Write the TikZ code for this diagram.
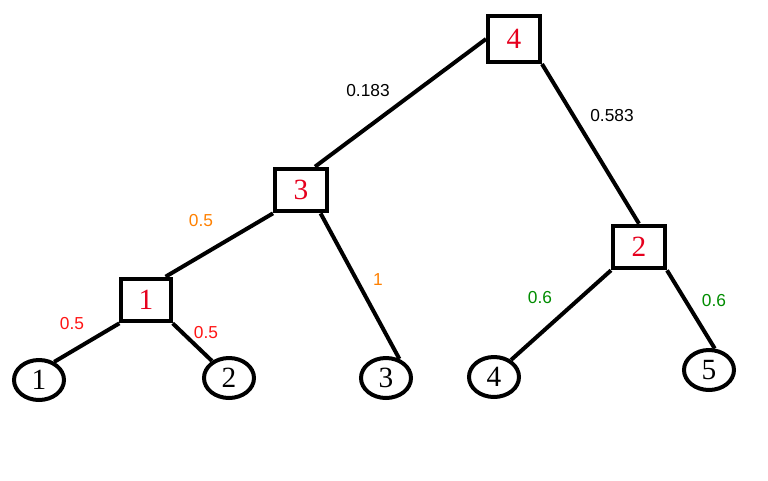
\documentclass[tikz,border=0pt]{standalone}
\usepackage{fontspec}
\usepackage{xcolor}
\usepackage{tikz}
\usetikzlibrary{shapes.geometric}
\newfontfamily\digitfont{Liberation Serif}
\newfontfamily\labelfont{Liberation Sans}
\definecolor{boxred}{RGB}{230,0,30}
\definecolor{wred}{RGB}{255,20,20}
\definecolor{worange}{RGB}{255,128,0}
\definecolor{wgreen}{RGB}{0,140,0}

\begin{document}
\begin{tikzpicture}[
    x=0.75pt, y=-0.75pt,
    every node/.style={font=\labelfont\fontsize{13}{15}\selectfont},
    merge/.style={
        rectangle, draw=black, line width=3pt, fill=white,
        minimum width=39pt, minimum height=32pt, inner sep=0pt,
        text=boxred, font=\digitfont\fontsize{22}{24}\selectfont
    },
    leaf/.style={
        ellipse, draw=black, line width=3pt, fill=white,
        minimum width=37.5pt, minimum height=30pt, inner sep=0pt,
        font=\digitfont\fontsize{22}{24}\selectfont
    },
    link/.style={draw=black, line width=3pt}
]
\useasboundingbox (0,0) rectangle (768,480);

% --- Merge nodes (boxes)
\node[merge, minimum height=34.5pt] (b4) at (514,39) {4};
\node[merge] (b3) at (301,190) {3};
\node[merge] (b2) at (639,247) {2};
\node[merge, minimum width=37pt] (b1) at (146,300) {1};

% --- Leaves
\node[leaf] (e1) at (39,380) {1};
\node[leaf] (e2) at (229,378) {2};
\node[leaf] (e3) at (386,378) {3};
\node[leaf] (e4) at (494,377) {4};
\node[leaf] (e5) at (709,370) {5};

% --- Edges
\draw[link] (b4.west) -- (b3.59);
\draw[link] (b4.south east) -- (b2.north);
\draw[link] (b3.south west) -- (b1.50);
\draw[link] (b3.-50) -- (e3.55);
\draw[link] (b1.south west) -- (e1.50);
\draw[link] (b1.south east) -- (e2.135);
\draw[link] (b2.south west) -- (e4.45);
\draw[link] (b2.south east) -- (e5.75);

% --- Edge weights
\node (w43) at (368,91) {0.183};
\node (w42) at (612,116) {0.583};
\node[text=worange] (w31) at (201,221) {0.5};
\node[text=worange] (w33) at (378,280) {1};
\node[text=wred] (w11) at (72,324) {0.5};
\node[text=wred] (w12) at (206,333) {0.5};
\node[text=wgreen] (w24) at (540,298) {0.6};
\node[text=wgreen] (w25) at (714,301) {0.6};
\end{tikzpicture}
\end{document}
